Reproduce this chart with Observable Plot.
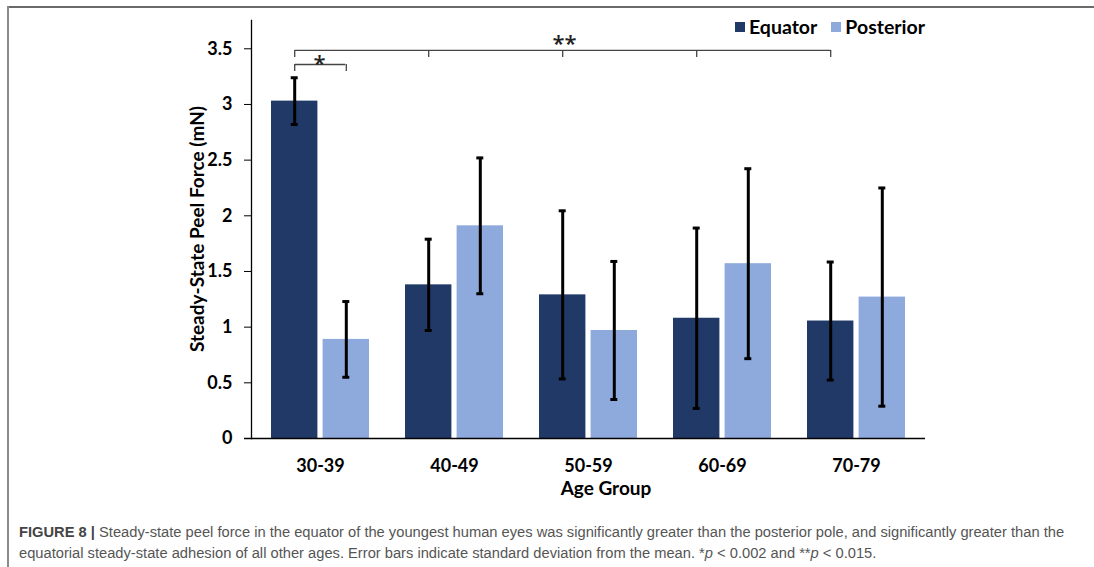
<!DOCTYPE html>
<html>
<head>
<meta charset="utf-8">
<script src="https://cdn.jsdelivr.net/npm/d3@7"></script>
<script src="https://cdn.jsdelivr.net/npm/@observablehq/plot@0.6"></script>
<style>
  html, body { margin: 0; padding: 0; background: #fff; }
  #page { position: relative; width: 1094px; height: 567px; overflow: hidden; background: #fff; }
  #frameTop { position: absolute; left: 8px; top: 6px; width: 1100px; height: 2px; background: #6a6a6a; }
  #frameLeft { position: absolute; left: 7px; top: 6px; width: 2px; height: 600px; background: #8a8a8a; }
  #chart { position: absolute; left: 0; top: 0; }
  .lbl { position: absolute; font-family: Lato, "Open Sans", sans-serif; font-weight: 700; color: #000; white-space: nowrap; }
  #ylabel { left: 0px; width: 394px; top: 217px; text-align: center; font-size: 19px; line-height: 24px; transform: rotate(-90deg); transform-origin: 197px 12px; }
  #xlabel { left: 506px; width: 200px; top: 476px; text-align: center; font-size: 19px; line-height: 24px; }
  #legend { left: 735px; top: 15px; font-size: 19.5px; line-height: 24px; display: flex; align-items: center; }
  .sw { display: inline-block; width: 10px; height: 10px; margin-right: 4px; }
  #caption { position: absolute; left: 19px; top: 522px; font-family: "Liberation Sans", Arial, sans-serif; font-size: 14.7px; line-height: 21px; color: #555; white-space: nowrap; }
  #caption b { color: #444; }
</style>
</head>
<body>
<div id="page">
  <div id="frameTop"></div>
  <div id="frameLeft"></div>
  <div id="chart"></div>
  <div id="ylabel" class="lbl">Steady-State Peel Force (mN)</div>
  <div id="xlabel" class="lbl">Age Group</div>
  <div id="legend" class="lbl"></div>
  <div id="caption"><b>FIGURE 8 |</b> Steady-state peel force in the equator of the youngest human eyes was significantly greater than the posterior pole, and significantly greater than the<br>equatorial steady-state adhesion of all other ages. Error bars indicate standard deviation from the mean. *<i>p</i> &lt; 0.002 and **<i>p</i> &lt; 0.015.</div>
</div>
<script>
// ---- data ----
const groups = ["30-39", "40-49", "50-59", "60-69", "70-79"];
const seriesNames = ["Equator", "Posterior"];
const seriesColors = ["#213967", "#8eaadc"];
const equator = [3.03, 1.38, 1.29, 1.08, 1.055];
const posterior = [0.89, 1.91, 0.97, 1.57, 1.27];
const equatorSD = [0.21, 0.41, 0.755, 0.81, 0.53];
const posteriorSD = [0.34, 0.61, 0.62, 0.853, 0.98];
const yTicks = [0, 0.5, 1, 1.5, 2, 2.5, 3, 3.5];
const yMax = 3.754;
// significance brackets (data units)
const sigLong = {from: "30-39", to: "70-79", level: 3.485, tickEnd: 3.422, label: "**", labelLevel: 3.545};
const sigShort = {group: "30-39", level: 3.359, tickEnd: 3.296, label: "*", labelLevel: 3.366};

// ---- build tables ----
const eqData = groups.map((g, i) => ({group: g, value: equator[i], lo: equator[i] - equatorSD[i], hi: equator[i] + equatorSD[i]}));
const poData = groups.map((g, i) => ({group: g, value: posterior[i], lo: posterior[i] - posteriorSD[i], hi: posterior[i] + posteriorSD[i]}));

const half = 25.8;      // offset from group centre to each bar centre
const barInset = 51.6;  // hides the other half of the pair band
const capInset = 45.5;
const axisColor = "#000";
const bracketColor = "#444";
const starFont = "'Open Sans', 'DejaVu Sans', sans-serif";

const plot = Plot.plot({
  width: 1094,
  height: 510,
  marginLeft: 251,
  marginRight: 169,
  marginTop: 20,
  marginBottom: 72,
  style: {fontFamily: "Lato, 'Open Sans', sans-serif", fontWeight: "700", fontSize: "18px", color: "#000", background: "transparent", overflow: "visible"},
  x: {domain: groups, paddingInner: 0.265, paddingOuter: 0.132, axis: null},
  y: {domain: [0, yMax], axis: null},
  marks: [
    Plot.barY(eqData, {x: "group", y: "value", fill: seriesColors[0], insetRight: barInset}),
    Plot.barY(poData, {x: "group", y: "value", fill: seriesColors[1], insetLeft: barInset}),
    // error bars
    Plot.ruleX(eqData, {x: "group", y1: "lo", y2: "hi", dx: -half, stroke: "#000", strokeWidth: 3}),
    Plot.ruleX(poData, {x: "group", y1: "lo", y2: "hi", dx: half, stroke: "#000", strokeWidth: 3}),
    Plot.tickY(eqData, {x: "group", y: "hi", dx: -half, insetLeft: capInset, insetRight: capInset, stroke: "#000", strokeWidth: 3}),
    Plot.tickY(eqData, {x: "group", y: "lo", dx: -half, insetLeft: capInset, insetRight: capInset, stroke: "#000", strokeWidth: 3}),
    Plot.tickY(poData, {x: "group", y: "hi", dx: half, insetLeft: capInset, insetRight: capInset, stroke: "#000", strokeWidth: 3}),
    Plot.tickY(poData, {x: "group", y: "lo", dx: half, insetLeft: capInset, insetRight: capInset, stroke: "#000", strokeWidth: 3}),
    // axes
    Plot.frame({anchor: "left", stroke: axisColor, strokeWidth: 1.3}),
    Plot.ruleY([0], {stroke: axisColor, strokeWidth: 1.6, insetLeft: -7}),
    Plot.axisY({ticks: yTicks, tickSize: 7, tickPadding: 12, tickFormat: d => String(d), label: null, stroke: axisColor, fontSize: 18}),
    Plot.axisX({tickSize: 0, tickPadding: 21, label: null, fontSize: 18}),
    // significance: long bracket
    Plot.link([sigLong], {x1: "from", x2: "to", y1: "level", y2: "level", dx: -half, stroke: bracketColor, strokeWidth: 1.3}),
    Plot.ruleX(groups, {x: d => d, y1: sigLong.tickEnd, y2: sigLong.level, dx: -half, stroke: bracketColor, strokeWidth: 1.3}),
    Plot.text([sigLong], {x: "from", y: "labelLevel", text: "label", dx: 244, fontSize: 22, fontWeight: 600, fontFamily: starFont, fill: "#222"}),
    // short bracket
    Plot.ruleY([sigShort], {x1: "group", x2: "group", y: "level", insetLeft: 23.7, insetRight: 23.7, stroke: bracketColor, strokeWidth: 1.3}),
    Plot.ruleX([sigShort], {x: "group", y1: "tickEnd", y2: "level", dx: -half, stroke: bracketColor, strokeWidth: 1.3}),
    Plot.ruleX([sigShort], {x: "group", y1: "tickEnd", y2: "level", dx: half, stroke: bracketColor, strokeWidth: 1.3}),
    Plot.text([sigShort], {x: "group", y: "labelLevel", text: "label", dx: -1, fontSize: 22, fontWeight: 600, fontFamily: starFont, fill: "#222"})
  ]
});
document.getElementById("chart").appendChild(plot);

// legend
const legend = document.getElementById("legend");
seriesNames.forEach((name, i) => {
  const sw = document.createElement("span");
  sw.className = "sw";
  sw.style.background = seriesColors[i];
  const t = document.createElement("span");
  t.textContent = name;
  t.style.marginRight = i === 0 ? "14px" : "0";
  legend.appendChild(sw);
  legend.appendChild(t);
});
</script>
</body>
</html>
